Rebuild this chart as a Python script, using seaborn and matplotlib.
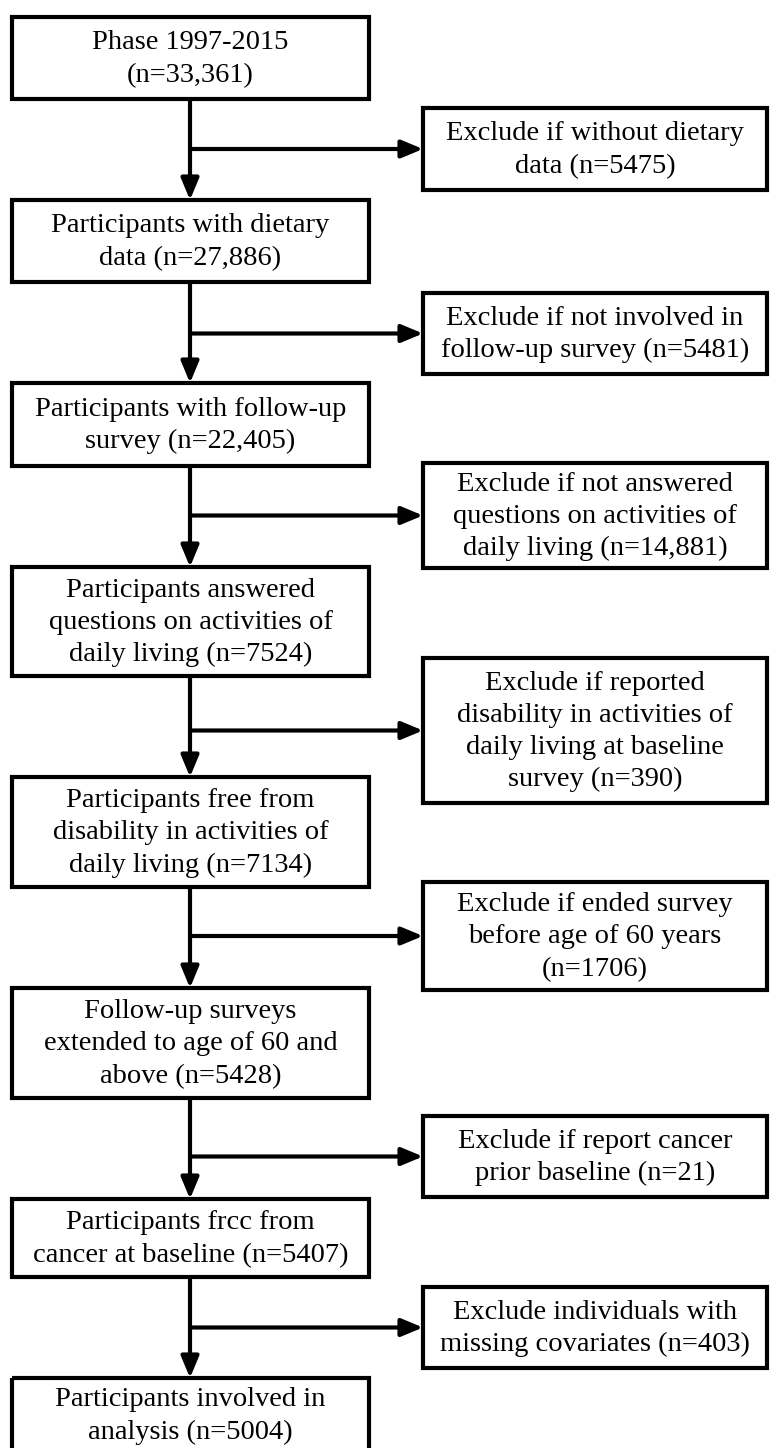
import matplotlib
matplotlib.use("Agg")
import matplotlib.pyplot as plt
from matplotlib.patches import Rectangle
import seaborn as sns

# flow chart content
main_labels = [
    "Phase 1997-2015\n({n})",
    "Participants with dietary\ndata ({n})",
    "Participants with follow-up\nsurvey ({n})",
    "Participants answered\nquestions on activities of\ndaily living ({n})",
    "Participants free from\ndisability in activities of\ndaily living ({n})",
    "Follow-up surveys\nextended to age of 60 and\nabove ({n})",
    "Participants frcc from\ncancer at baseline ({n})",
    "Participants involved in\nanalysis ({n})",
]
main_counts = [33361, 27886, 22405, 7524, 7134, 5428, 5407, 5004]

excl_labels = [
    "Exclude if without dietary\ndata ({n})",
    "Exclude if not involved in\nfollow-up survey ({n})",
    "Exclude if not answered\nquestions on activities of\ndaily living ({n})",
    "Exclude if reported\ndisability in activities of\ndaily living at baseline\nsurvey ({n})",
    "Exclude if ended survey\nbefore age of 60 years\n({n})",
    "Exclude if report cancer\nprior baseline ({n})",
    "Exclude individuals with\nmissing covariates ({n})",
]
excl_counts = [5475, 5481, 14881, 390, 1706, 21, 403]

# layout (pixels, y downwards)
main_tb = [(17, 99), (200, 282), (383, 466), (567, 676), (777, 887),
           (988, 1098), (1199, 1277), (1378, 1452)]
excl_tb = [(108, 190), (293, 374), (463, 568), (658, 803), (882, 990),
           (1116, 1197), (1287, 1368)]
main_x = (12, 369)
excl_x = (423, 767)
stem_x = 190


def fmt(n):
    s = f"n={n:,}" if n >= 10000 else f"n={n}"
    return s


sns.set_theme(style="white")
plt.rcParams['font.family'] = ['Liberation Serif', 'DejaVu Serif']

fig = plt.figure(figsize=(7.7, 14.48), dpi=100)
ax = fig.add_axes([0, 0, 1, 1])
ax.set_xlim(0, 770)
ax.set_ylim(1448, 0)
ax.set_axis_off()

lw = 3
txt_kw = dict(ha='center', va='center', fontsize=20.5, linespacing=1.38, color='black')
arrow_kw = dict(arrowstyle='-|>,head_length=0.65,head_width=0.27', color='black',
                lw=lw, shrinkA=0, shrinkB=0, mutation_scale=20)


def box(x0, x1, top, bot, text):
    ax.add_patch(Rectangle((x0, top), x1 - x0, bot - top, fill=False,
                           edgecolor='black', lw=lw, clip_on=False))
    ax.text((x0 + x1) / 2, (top + bot) / 2 + 1, text, **txt_kw)


for lab, n, (t, b) in zip(main_labels, main_counts, main_tb):
    box(main_x[0], main_x[1], t, b, lab.format(n=fmt(n)))

for lab, n, (t, b) in zip(excl_labels, excl_counts, excl_tb):
    box(excl_x[0], excl_x[1], t, b, lab.format(n=fmt(n)))

# arrows down the main column and out to the exclusion boxes
for i, (t, b) in enumerate(excl_tb):
    y_from = main_tb[i][1]
    y_to = main_tb[i + 1][0]
    ax.annotate('', xy=(stem_x, y_to), xytext=(stem_x, y_from), arrowprops=arrow_kw)
    yb = (t + b) / 2
    ax.annotate('', xy=(excl_x[0], yb), xytext=(stem_x, yb), arrowprops=arrow_kw)

fig.savefig("out.png", dpi=100, facecolor='white')
